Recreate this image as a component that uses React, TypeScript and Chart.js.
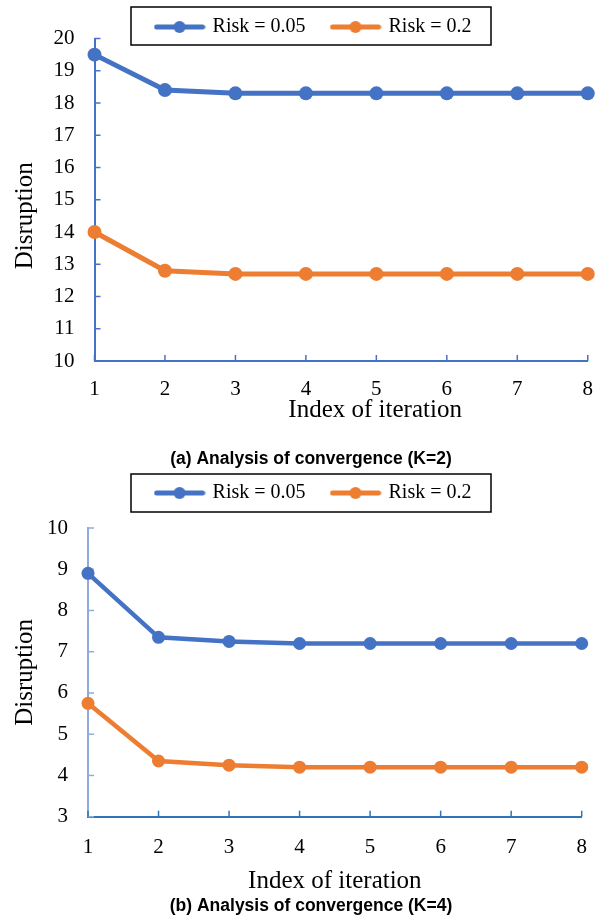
import React, { useEffect, useRef } from 'react';
import { Chart, registerables } from 'chart.js';

Chart.register(...registerables);

// ---------- data ----------
const ITERATIONS = ['1', '2', '3', '4', '5', '6', '7', '8'];
const SERIES_NAMES = ['Risk = 0.05', 'Risk = 0.2'];

const K2_RISK_005 = [19.5, 18.4, 18.3, 18.3, 18.3, 18.3, 18.3, 18.3];
const K2_RISK_02 = [14.0, 12.8, 12.7, 12.7, 12.7, 12.7, 12.7, 12.7];
const K2_Y_RANGE = [10, 20];

const K4_RISK_005 = [8.9, 7.35, 7.25, 7.2, 7.2, 7.2, 7.2, 7.2];
const K4_RISK_02 = [5.75, 4.35, 4.25, 4.2, 4.2, 4.2, 4.2, 4.2];
const K4_Y_RANGE = [3, 10];

const CAPTIONS = ['(a) Analysis of convergence (K=2)', '(b) Analysis of convergence (K=4)'];
const X_TITLE = 'Index of iteration';
const Y_TITLE = 'Disruption';

// ---------- styles ----------
const BLUE = '#4472C4';
const ORANGE = '#ED7D31';
const SERIF = '"Liberation Serif", "Times New Roman", serif';
const SANS = '"Liberation Sans", Arial, sans-serif';

type Layout = {
  height: number;
  yScaleWidth: number;
  padRight: number;
  legendReserve: number;
  legendCenterY: number;
  legendCenterX: number;
  boxX: number;
  boxW: number;
  boxY: number;
  boxH: number;
  xScaleHeight: number;
  xTitlePadBottom: number;
  xTickPad: number;
  yTickPad: number;
  yTitlePadTop: number;
  xTitleDx: number;
  yTitleDy: number;
  captionCenterX: number;
  lineWidth: number;
  pointRadius: number;
  xAxisColor: string;
  yAxisColor: string;
};

const LAYOUT_A: Layout = {
  height: 470,
  yScaleWidth: 94.5,
  padRight: 15.5,
  legendReserve: 38.5,
  legendCenterY: 27,
  legendCenterX: 314,
  boxX: 131,
  boxW: 360,
  boxY: 7,
  boxH: 38,
  xScaleHeight: 88,
  xTitlePadBottom: 24,
  xTickPad: 16,
  yTickPad: 20,
  yTitlePadTop: 10,
  xTitleDx: 34,
  yTitleDy: 16,
  captionCenterX: 311,
  lineWidth: 5,
  pointRadius: 7,
  xAxisColor: '#4472C4',
  yAxisColor: '#4472C4',
};

const LAYOUT_B: Layout = {
  height: 447,
  yScaleWidth: 88,
  padRight: 27.3,
  legendReserve: 58,
  legendCenterY: 23,
  legendCenterX: 314,
  boxX: 131,
  boxW: 360,
  boxY: 4,
  boxH: 38,
  xScaleHeight: 79.3,
  xTitlePadBottom: 0,
  xTickPad: 18,
  yTickPad: 20,
  yTitlePadTop: 10,
  xTitleDx: 0,
  yTitleDy: 0,
  captionCenterX: 311,
  lineWidth: 4.5,
  pointRadius: 6.5,
  xAxisColor: '#2E75B6',
  yAxisColor: '#8FAADC',
};

function makeMarker(color: string) {
  const c = document.createElement('canvas');
  c.width = 52;
  c.height = 14;
  const g = c.getContext('2d')!;
  g.strokeStyle = color;
  g.lineWidth = 5;
  g.lineCap = 'round';
  g.beginPath();
  g.moveTo(3, 7);
  g.lineTo(49, 7);
  g.stroke();
  g.fillStyle = color;
  g.beginPath();
  g.arc(26, 7, 6, 0, Math.PI * 2);
  g.fill();
  return c;
}

type Props = {
  L: Layout;
  blue: number[];
  orange: number[];
  yRange: number[];
  caption: string;
};

function ConvergenceChart({ L, blue, orange, yRange, caption }: Props) {
  const ref = useRef<HTMLCanvasElement>(null);

  useEffect(() => {
    if (!ref.current) return;
    const colors = [BLUE, ORANGE];

    const fixPlugin: any = {
      id: 'fixLayout',
      beforeLayout(chart: any) {
        const lg = chart.legend;
        if (lg && !lg._patched) {
          const f = lg.fit.bind(lg);
          lg.fit = function () {
            f();
            this.height = L.legendReserve;
          };
          lg._patched = true;
        }
      },
      afterLayout(chart: any) {
        const lg = chart.legend;
        if (lg) {
          const pad = lg.options.labels.padding;
          lg.top = L.legendCenterY - pad - 10;
          lg.bottom = lg.top + 2 * pad + 40;
          const dx = L.legendCenterX - (lg.left + lg.right) / 2;
          lg.left += dx;
          lg.right += dx;
        }
        const tb = chart.titleBlock;
        if (tb) {
          const tdx = L.captionCenterX - (tb.left + tb.right) / 2;
          tb.left += tdx;
          tb.right += tdx;
        }
        const sx = chart.scales.x;
        if (sx && !sx._patched) {
          const o = sx.drawTitle.bind(sx);
          sx.drawTitle = () => {
            const c = chart.ctx;
            c.save();
            c.translate(L.xTitleDx, 0);
            o();
            c.restore();
          };
          sx._patched = true;
        }
        const sy = chart.scales.y;
        if (sy && !sy._patched) {
          const o = sy.drawTitle.bind(sy);
          sy.drawTitle = () => {
            const c = chart.ctx;
            c.save();
            c.translate(0, L.yTitleDy);
            o();
            c.restore();
          };
          sy._patched = true;
        }
      },
      beforeDatasetsDraw(chart: any) {
        const { ctx, chartArea: a, scales } = chart;
        const x = scales.x;
        const y = scales.y;
        ctx.save();
        ctx.lineWidth = 1.5;
        ctx.strokeStyle = L.yAxisColor;
        y.ticks.forEach((_t: any, i: number) => {
          const py = y.getPixelForTick(i);
          ctx.beginPath();
          ctx.moveTo(a.left, py);
          ctx.lineTo(a.left + 6, py);
          ctx.stroke();
        });
        ctx.strokeStyle = L.xAxisColor;
        x.ticks.forEach((_t: any, i: number) => {
          const px = x.getPixelForTick(i);
          ctx.beginPath();
          ctx.moveTo(px, a.bottom);
          ctx.lineTo(px, a.bottom - 6);
          ctx.stroke();
        });
        ctx.restore();
      },
      afterDraw(chart: any) {
        const ctx = chart.ctx;
        ctx.save();
        ctx.strokeStyle = '#000';
        ctx.lineWidth = 1.5;
        ctx.strokeRect(L.boxX, L.boxY, L.boxW, L.boxH);
        ctx.restore();
      },
    };

    const tickFont = { family: SERIF, size: 21 };
    const titleFont = { family: SERIF, size: 25 };

    const chart = new Chart(ref.current, {
      type: 'line',
      data: {
        labels: ITERATIONS,
        datasets: [blue, orange].map((d, i) => ({
          label: SERIES_NAMES[i],
          data: d,
          borderColor: colors[i],
          backgroundColor: colors[i],
          pointBackgroundColor: colors[i],
          pointBorderColor: colors[i],
          pointBorderWidth: 0,
          borderWidth: L.lineWidth,
          pointRadius: L.pointRadius,
          tension: 0,
          clip: false as any,
          fill: false,
        })),
      },
      options: {
        responsive: false,
        maintainAspectRatio: false,
        animation: false,
        events: [],
        layout: { padding: { left: 0, right: L.padRight, top: 0, bottom: 0 } },
        plugins: {
          legend: {
            display: true,
            position: 'top',
            labels: {
              usePointStyle: true,
              pointStyleWidth: 46,
              padding: 27,
              color: '#000',
              font: { family: SERIF, size: 20 },
              generateLabels: (ch: any) =>
                ch.data.datasets.map((ds: any, i: number) => ({
                  text: ds.label,
                  fillStyle: colors[i],
                  strokeStyle: colors[i],
                  lineWidth: 0,
                  hidden: false,
                  datasetIndex: i,
                  pointStyle: makeMarker(colors[i]),
                  fontColor: '#000',
                })),
            },
          },
          title: {
            display: true,
            position: 'bottom',
            text: caption,
            color: '#000',
            font: { family: SANS, size: 17.5, weight: 'bold' },
            padding: { top: 0, bottom: 0 },
          },
          tooltip: { enabled: false },
        },
        scales: {
          x: {
            type: 'category',
            offset: false,
            grid: { display: true, drawOnChartArea: false, drawTicks: false },
            border: { display: true, color: L.xAxisColor, width: 2 },
            ticks: {
              color: '#000',
              font: tickFont,
              padding: L.xTickPad,
              maxRotation: 0,
              autoSkip: false,
            },
            title: {
              display: true,
              text: X_TITLE,
              color: '#000',
              font: titleFont,
              padding: { top: 0, bottom: L.xTitlePadBottom },
            },
            afterFit: (s: any) => {
              s.height = L.xScaleHeight;
            },
          },
          y: {
            min: yRange[0],
            max: yRange[1],
            grid: { display: true, drawOnChartArea: false, drawTicks: false },
            border: { display: true, color: L.yAxisColor, width: 2 },
            ticks: {
              stepSize: 1,
              color: '#000',
              font: tickFont,
              padding: L.yTickPad,
            },
            title: {
              display: true,
              text: Y_TITLE,
              color: '#000',
              font: titleFont,
              padding: { top: L.yTitlePadTop, bottom: 0 },
            },
            afterFit: (s: any) => {
              s.width = L.yScaleWidth;
            },
          },
        },
      } as any,
      plugins: [fixPlugin],
    });

    return () => chart.destroy();
  }, [L, blue, orange, yRange, caption]);

  return (
    <canvas
      ref={ref}
      width={609}
      height={L.height}
      style={{ display: 'block', width: 609, height: L.height }}
    />
  );
}

export default function App() {
  return (
    <div
      style={{
        position: 'absolute',
        left: 0,
        top: 0,
        width: 609,
        height: 917,
        background: '#fff',
      }}
    >
      <ConvergenceChart
        L={LAYOUT_A}
        blue={K2_RISK_005}
        orange={K2_RISK_02}
        yRange={K2_Y_RANGE}
        caption={CAPTIONS[0]}
      />
      <ConvergenceChart
        L={LAYOUT_B}
        blue={K4_RISK_005}
        orange={K4_RISK_02}
        yRange={K4_Y_RANGE}
        caption={CAPTIONS[1]}
      />
    </div>
  );
}
